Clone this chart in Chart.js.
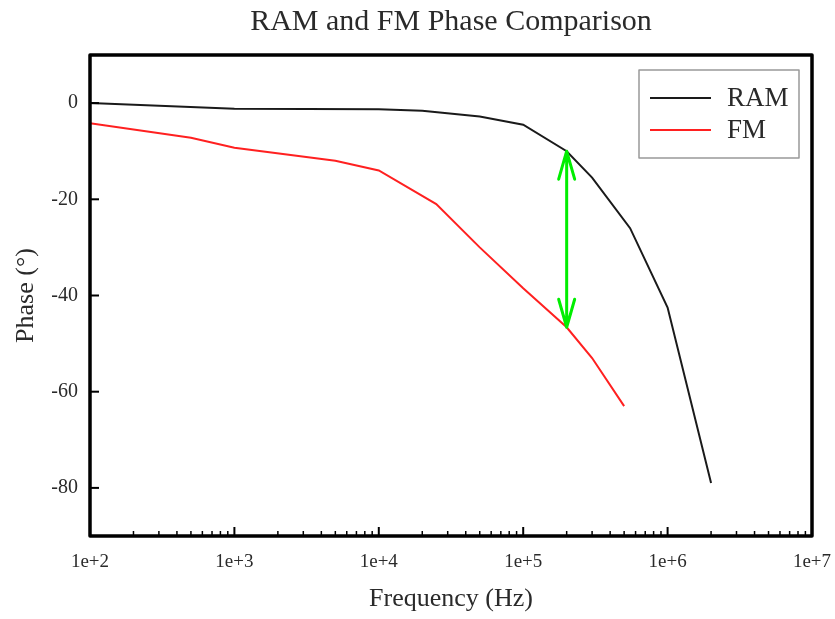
<!DOCTYPE html>
<html>
<head>
<meta charset="utf-8">
<script src="https://cdn.jsdelivr.net/npm/chart.js@4.4.0/dist/chart.umd.min.js"></script>
<style>
  body { margin: 0; background: #fff; }
  #wrap { width: 835px; height: 619px; }
</style>
</head>
<body>
<div id="wrap"><canvas id="myChart"></canvas></div>
<script>
// values
const ramFreq  = [1e2, 1e3, 1e4, 2e4, 5e4, 1e5, 2e5, 3e5, 5.5e5, 1e6, 2e6]
const ramPhase = [0, -1.2, -1.3, -1.6, -2.8, -4.5, -10, -15.5, -26, -42.5, -79]
const fmFreq   = [1e2, 5e2, 1e3, 5e3, 1e4, 2.5e4, 5e4, 1e5, 2e5, 3e5, 5e5]
const fmPhase  = [-4.2, -7.2, -9.3, -12, -14, -21, -30, -38.5, -46.6, -53, -63]

const xTicks      = [1e2, 1e3, 1e4, 1e5, 1e6, 1e7]
const xTickLabels = ['1e+2', '1e+3', '1e+4', '1e+5', '1e+6', '1e+7']
const yTicks      = [-80, -60, -40, -20, 0]

const arrowFreq   = 2e5
const arrowTop    = -10
const arrowBottom = -46.6

const serif = "'Liberation Serif', 'Times New Roman', serif"
const textColor = '#2a2a2a'

const toPoints = (xs, ys) => xs.map((x, i) => ({ x: x, y: ys[i] }))

// frame, inward ticks, green arrow and the boxed legend
const extras = {
  id: 'extras',
  afterDatasetsDraw(chart) {
    const ctx = chart.ctx
    const a = chart.chartArea
    const xs = chart.scales.x
    const ys = chart.scales.y
    ctx.save()

    // minor + major ticks on the bottom axis
    ctx.strokeStyle = '#000'
    ctx.lineWidth = 1.5
    for (let d = 0; d < xTicks.length - 1; d++) {
      for (let m = 2; m <= 9; m++) {
        const px = xs.getPixelForValue(xTicks[d] * m)
        ctx.beginPath()
        ctx.moveTo(px, a.bottom)
        ctx.lineTo(px, a.bottom - 5)
        ctx.stroke()
      }
    }
    ctx.lineWidth = 2
    xTicks.forEach(v => {
      const px = xs.getPixelForValue(v)
      ctx.beginPath()
      ctx.moveTo(px, a.bottom)
      ctx.lineTo(px, a.bottom - 9)
      ctx.stroke()
    })
    yTicks.forEach(v => {
      const py = ys.getPixelForValue(v)
      ctx.beginPath()
      ctx.moveTo(a.left, py)
      ctx.lineTo(a.left + 9, py)
      ctx.stroke()
    })

    // double headed arrow
    const ax = xs.getPixelForValue(arrowFreq)
    const at = ys.getPixelForValue(arrowTop)
    const ab = ys.getPixelForValue(arrowBottom)
    ctx.strokeStyle = '#00ee00'
    ctx.lineWidth = 3
    ctx.lineCap = 'round'
    ctx.lineJoin = 'round'
    ctx.beginPath()
    ctx.moveTo(ax, at)
    ctx.lineTo(ax, ab)
    ctx.moveTo(ax - 8, at + 28)
    ctx.lineTo(ax, at)
    ctx.lineTo(ax + 8, at + 28)
    ctx.moveTo(ax - 8, ab - 28)
    ctx.lineTo(ax, ab)
    ctx.lineTo(ax + 8, ab - 28)
    ctx.stroke()

    // frame
    ctx.lineCap = 'butt'
    ctx.strokeStyle = '#000'
    ctx.lineWidth = 3.5
    ctx.strokeRect(a.left, a.top, a.right - a.left, a.bottom - a.top)

    // legend box in the top right corner
    const bx = a.right - 173, by = a.top + 15, bw = 160, bh = 88
    ctx.fillStyle = '#fff'
    ctx.fillRect(bx, by, bw, bh)
    ctx.strokeStyle = '#999'
    ctx.lineWidth = 1.5
    ctx.strokeRect(bx, by, bw, bh)
    chart.data.datasets.forEach((ds, i) => {
      const ly = by + 28 + i * 32
      ctx.strokeStyle = ds.borderColor
      ctx.lineWidth = 2
      ctx.beginPath()
      ctx.moveTo(bx + 11, ly)
      ctx.lineTo(bx + 72, ly)
      ctx.stroke()
      ctx.fillStyle = textColor
      ctx.font = '27px ' + serif
      ctx.textBaseline = 'middle'
      ctx.fillText(ds.label, bx + 88, ly + 1)
    })
    ctx.restore()
  }
}

const ctx = document.getElementById('myChart')

new Chart(ctx, {
  type: 'line',
  data: {
    datasets: [{
      label: 'RAM',
      data: toPoints(ramFreq, ramPhase),
      borderColor: '#1a1a1a',
      borderWidth: 2,
      pointRadius: 0,
      tension: 0
    }, {
      label: 'FM',
      data: toPoints(fmFreq, fmPhase),
      borderColor: '#ff2020',
      borderWidth: 2,
      pointRadius: 0,
      tension: 0
    }]
  },
  options: {
    responsive: true,
    maintainAspectRatio: false,
    animation: false,
    layout: { padding: { left: 0, right: 23, top: 0, bottom: 0 } },
    plugins: {
      legend: { display: false },
      tooltip: { enabled: false },
      title: {
        display: true,
        text: 'RAM and FM Phase Comparison',
        fullSize: false,
        color: textColor,
        font: { family: serif, size: 30, weight: 'normal' },
        padding: { top: 4, bottom: 15 }
      }
    },
    scales: {
      x: {
        type: 'logarithmic',
        min: 1e2,
        max: 1e7,
        grid: { display: false, drawTicks: false },
        border: { display: false },
        afterBuildTicks: s => { s.ticks = xTicks.map(v => ({ value: v })) },
        afterFit: s => { s.height = 83; s.paddingLeft = 0; s.paddingRight = 0 },
        ticks: {
          autoSkip: false,
          maxRotation: 0,
          padding: 15,
          color: textColor,
          font: { family: serif, size: 19 },
          callback: (v) => xTickLabels[xTicks.indexOf(v)]
        },
        title: {
          display: true,
          text: 'Frequency (Hz)',
          color: textColor,
          font: { family: serif, size: 26 },
          padding: { top: 0, bottom: 4 }
        }
      },
      y: {
        min: -90,
        max: 10,
        grid: { display: false, drawTicks: false },
        border: { display: false },
        afterBuildTicks: s => { s.ticks = yTicks.map(v => ({ value: v })) },
        afterFit: s => { s.width = 90 },
        ticks: {
          padding: 12,
          color: textColor,
          font: { family: serif, size: 20 }
        },
        title: {
          display: true,
          text: 'Phase (°)',
          color: textColor,
          font: { family: serif, size: 26 },
          padding: { top: 11, bottom: 0 }
        }
      }
    }
  },
  plugins: [extras]
})
</script>
</body>
</html>
